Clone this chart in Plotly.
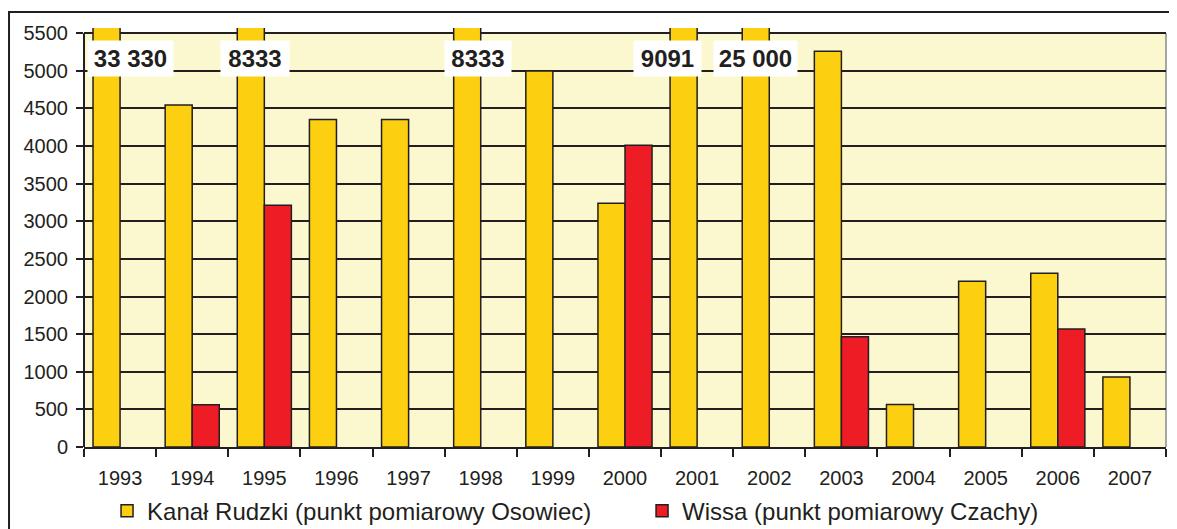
import plotly.graph_objects as go

years = ['1993', '1994', '1995', '1996', '1997', '1998', '1999', '2000',
         '2001', '2002', '2003', '2004', '2005', '2006', '2007']
kanal = [33330, 4545, 8333, 4355, 4355, 8333, 5000, 3240, 9091, 25000, 5260, 565, 2205, 2310, 930]
wissa = [None, 560, 3215, None, None, None, None, 4010, None, None, 1465, None, None, 1570, None]

kanal_name = 'Kanał Rudzki (punkt pomiarowy Osowiec)'
wissa_name = 'Wissa (punkt pomiarowy Czachy)'

# labels for bars exceeding the axis
big_years = ['1993', '1995', '1998', '2001', '2002']
big_labels = ['33 330', '8333', '8333', '9091', '25 000']
big_shift = [10, -9, -3, -30, -14]
big_width = [77, 60, 58, 59, 75]

DARK = '#231f20'
FONT = 'Liberation Sans, Arial, sans-serif'

fig = go.Figure()
fig.add_trace(go.Bar(x=years, y=kanal, name=kanal_name,
                     marker=dict(color='#fccf10', line=dict(color=DARK, width=1.5))))
fig.add_trace(go.Bar(x=years, y=wissa, name=wissa_name,
                     marker=dict(color='#ee1c25', line=dict(color=DARK, width=1.5))))

for yr, lab, sh, w in zip(big_years, big_labels, big_shift, big_width):
    fig.add_annotation(x=years.index(yr), y=5158, text='<b>' + lab + '</b>', showarrow=False,
                       xshift=sh, yanchor='middle', bgcolor='white', borderpad=4, width=w,
                       font=dict(family=FONT, size=24, color=DARK))

TOP = 5500
shapes = [
    # plot background up to 5500
    dict(type='rect', xref='paper', yref='y', x0=0, x1=1, y0=0, y1=TOP,
         fillcolor='#fbf8d0', line=dict(width=0), layer='below'),
    # grey top and right border
    dict(type='line', xref='paper', yref='y', x0=0, x1=1, y0=TOP, y1=TOP,
         line=dict(color='#8a8a8a', width=1.5), layer='below'),
    dict(type='line', xref='paper', yref='y', x0=1, x1=1, y0=0, y1=TOP,
         line=dict(color='#8a8a8a', width=1.5), layer='below'),
    # left axis line
    dict(type='line', xref='paper', yref='y', x0=0, x1=0, y0=0, y1=TOP,
         line=dict(color=DARK, width=2), layer='above'),
    # outer frame
    dict(type='rect', xref='paper', yref='paper', x0=-0.0693, x1=1.03, y0=-0.3, y1=1.038,
         line=dict(color=DARK, width=2), fillcolor='rgba(0,0,0,0)', layer='above'),
]

# page body has an 8px margin, so the figure is sized to end at the window edge
fig.update_layout(
    width=1169, height=521,
    margin=dict(l=76, r=11, t=20, b=82, autoexpand=False),
    paper_bgcolor='white', plot_bgcolor='white',
    barmode='group', bargap=0.25, bargroupgap=0,
    shapes=shapes,
    font=dict(family=FONT, color=DARK),
    showlegend=True,
    legend=dict(orientation='h', x=0.0213, xanchor='left', y=-0.153, yanchor='middle',
                font=dict(family=FONT, size=24, color=DARK), bgcolor='rgba(0,0,0,0)',
                entrywidth=490, entrywidthmode='pixels', traceorder='normal'),
    xaxis=dict(type='category', range=[-0.5, len(years) - 0.5], autorange=False,
               automargin=False, showline=True, linecolor=DARK, linewidth=2,
               ticks='outside', tickson='boundaries', ticklen=8, tickwidth=2, tickcolor=DARK,
               tickfont=dict(family=FONT, size=20, color=DARK), ticklabelstandoff=12,
               tickangle=0, showgrid=False),
    yaxis=dict(range=[0, 5570], autorange=False, automargin=False,
               tickmode='array', tickvals=list(range(0, 5501, 500)),
               ticks='outside', ticklen=7, tickwidth=2, tickcolor=DARK,
               tickfont=dict(family=FONT, size=20, color=DARK), ticklabelstandoff=4,
               showgrid=True, gridcolor=DARK, gridwidth=1.5, zeroline=False,
               showline=False),
)

fig.write_html('out.html')
